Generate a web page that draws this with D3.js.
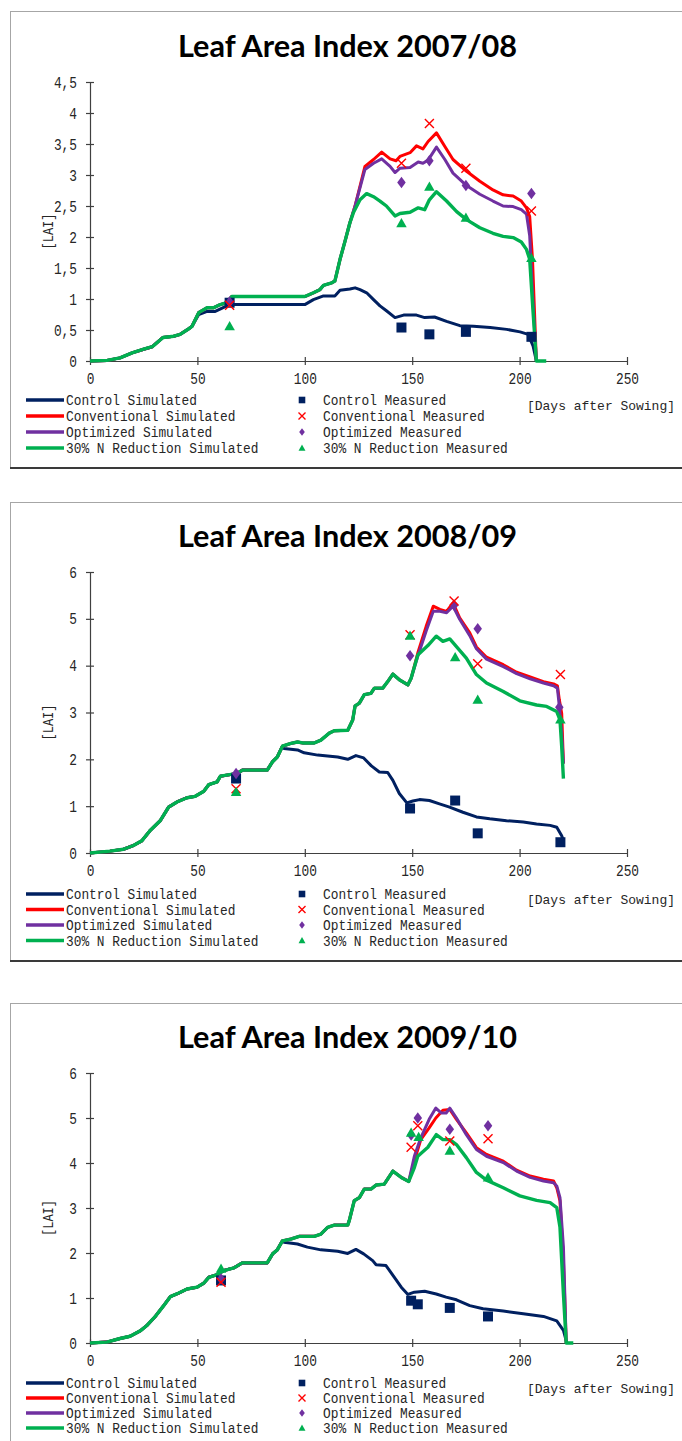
<!DOCTYPE html>
<html>
<head>
<meta charset="utf-8">
<script src="https://d3js.org/d3.v7.min.js"></script>
<style>
body { margin: 0; background: #fff; }
</style>
</head>
<body>
<script>
// series names and colours
var seriesNames = ["Control", "Conventional", "Optimized", "30% N Reduction"];
var seriesColors = ["#002060", "#ff0000", "#7030a0", "#00b050"];
var xTicks = [0, 50, 100, 150, 200, 250];
var yTicks0708 = [0, 0.5, 1, 1.5, 2, 2.5, 3, 3.5, 4, 4.5];
var yTicks0910 = [0, 1, 2, 3, 4, 5, 6];

// ---- 2007/08, [day, LAI] ----
var early0708 = [[0,0],[8,0.01],[14,0.05],[19.6,0.13],[25,0.19],[29,0.23],[34,0.38],[39,0.40],[42,0.43],[46,0.52],[47.5,0.56],[50.6,0.78]];
var rise0708 = [[54.5,0.86],[57.6,0.86],[60.6,0.91],[63.7,0.94],[66,1.04],[100,1.04],[104,1.10],[107,1.15],[108.7,1.22],[112.5,1.26],[114,1.29],[116.4,1.64],[118.7,1.93],[121,2.23]];
var ctrlSim0708 = early0708.slice(0, 11).concat([[50.6,0.75],[54.5,0.80],[58.3,0.80],[62,0.86],[65,0.91],[100,0.91],[104,0.99],[108.7,1.05],[114,1.05],[116.4,1.14],[121,1.16],[123.4,1.18],[125.7,1.15],[128.8,1.10],[132,0.99],[135,0.89],[138,0.81],[142,0.70],[146,0.74],[152,0.74],[155.8,0.70],[160.4,0.71],[166,0.64],[172.2,0.57],[178.5,0.56],[186.3,0.54],[194,0.51],[200.2,0.47],[204,0.43],[206.3,0.24],[207.8,0]]);
var convSim0708 = early0708.concat(rise0708, [[123.4,2.50],[128,3.14],[132,3.25],[135.8,3.37],[139.7,3.26],[142.5,3.23],[144.3,3.30],[149,3.36],[152,3.47],[155,3.42],[157.4,3.54],[161.3,3.68],[165.2,3.46],[169,3.25],[175.3,3.06],[181.5,2.90],[187.6,2.76],[192.3,2.68],[197,2.66],[200.8,2.58],[203.2,2.47],[204.7,2.33],[206,1.64],[207.8,0]]);
var optSim0708 = early0708.concat(rise0708, [[123.4,2.50],[128,3.09],[132,3.19],[135.8,3.26],[139.7,3.14],[142,3.04],[144.3,3.11],[149,3.12],[152.8,3.21],[155,3.19],[157.4,3.24],[161.3,3.45],[165.2,3.25],[169,3.03],[175.3,2.83],[181.5,2.69],[187.6,2.58],[192.3,2.50],[197,2.49],[200.8,2.44],[203.2,2.37],[204.7,2.02],[206,1.10],[207.8,0]]);
var nredSim0708 = early0708.concat(rise0708, [[122.6,2.39],[125.7,2.60],[128.8,2.70],[132,2.65],[135,2.58],[138,2.50],[142,2.34],[144.3,2.38],[149,2.40],[152.8,2.47],[155.8,2.44],[158,2.60],[161.3,2.73],[166,2.58],[170.7,2.41],[175.3,2.28],[181.5,2.15],[187.6,2.06],[192.3,2.01],[197,1.99],[200.8,1.92],[203.2,1.80],[204.7,1.64],[206.2,0.83],[207.8,0],[212.4,0]]);
var ctrlMeas0708 = [[65,0.94],[145,0.54],[158,0.43],[175,0.47],[205.5,0.39]];
var convMeas0708 = [[65,0.90],[145,3.19],[158,3.83],[175,3.11],[205.5,2.42]];
var optMeas0708 = [[65,0.95],[145,2.88],[158,3.23],[175,2.83],[205.5,2.70]];
var nredMeas0708 = [[65,0.56],[145,2.22],[158,2.81],[175,2.31],[205.5,1.66]];

// ---- 2008/09 ----
var early0809 = [[0,0],[9.3,0.04],[15.6,0.08],[20.2,0.16],[24.1,0.26],[28,0.48],[32.7,0.69],[36.6,0.98],[40.5,1.09],[45.2,1.18],[49,1.21],[53,1.32],[55.3,1.46],[59.2,1.52],[60.7,1.64],[68.5,1.70],[71,1.77],[82.5,1.77],[85,1.95],[87.2,2.05],[89.6,2.28]];
var mid0809 = [[93.5,2.34],[96.6,2.37],[99,2.35],[104.4,2.35],[107.5,2.41],[111.4,2.56],[113.7,2.61],[120,2.62],[122.3,2.84],[123.4,3.14],[125.4,3.20],[127.7,3.38],[130.8,3.41],[132.4,3.52],[136.3,3.52],[138.6,3.66],[141,3.82],[144,3.70],[148,3.59],[149.5,3.73]];
var ctrlSim0809 = early0809.concat([[90.3,2.23],[96.6,2.20],[99.7,2.14],[106,2.09],[110.6,2.07],[115.3,2.05],[120,2.00],[123.8,2.08],[127.4,2.03],[131,1.86],[134.7,1.73],[138.6,1.72],[141,1.55],[144,1.27],[147.5,1.07],[150.3,1.11],[153.4,1.14],[158,1.12],[162.7,1.05],[167.4,0.98],[173.6,0.87],[179.9,0.77],[186.1,0.73],[193.9,0.69],[201.7,0.66],[207.9,0.62],[214.2,0.59],[217.3,0.55],[219.6,0.37],[220.4,0.26]]);
var convSim0809 = early0809.concat(mid0809, [[152.6,4.27],[156.5,4.84],[159.8,5.27],[162.9,5.20],[166,5.16],[169,5.34],[172.1,5.02],[176.8,4.70],[179.9,4.40],[184.6,4.18],[192.4,4.02],[198.6,3.86],[204.9,3.76],[211.1,3.66],[215.8,3.61],[217.6,3.57],[218.5,3.27],[219.6,2.98],[220.4,1.91]]);
var optSim0809 = early0809.concat(mid0809, [[152.6,4.20],[156.5,4.74],[159.8,5.16],[162.9,5.16],[166,5.13],[169,5.27],[172.1,4.99],[176.8,4.64],[179.9,4.36],[184.6,4.14],[192.4,3.98],[198.6,3.83],[204.9,3.72],[211.1,3.63],[215.8,3.57],[217.6,3.52],[218.5,3.13],[219.6,2.55],[220.4,1.91]]);
var nredSim0809 = early0809.concat(mid0809, [[152.6,4.23],[157.3,4.43],[161.2,4.63],[164.3,4.52],[167.5,4.57],[169.8,4.45],[175.2,4.16],[179.9,3.81],[184.6,3.63],[192.4,3.45],[200.1,3.25],[207.9,3.16],[212.6,3.13],[217.3,3.02],[218.8,2.84],[219.6,2.27],[220.4,1.59]]);
var ctrlMeas0809 = [[68,1.59],[149,0.95],[170,1.12],[180.5,0.42],[219,0.23]];
var convMeas0809 = [[68,1.37],[149,4.66],[169.5,5.38],[180.5,4.04],[219,3.81]];
var optMeas0809 = [[68,1.70],[149,4.21],[169.5,5.29],[180.5,4.79],[218.5,3.11]];
var nredMeas0809 = [[68,1.30],[149,4.64],[170,4.18],[180.5,3.27],[219,2.85]];

// ---- 2009/10 ----
var early0910 = [[0,0],[7.8,0.02],[14,0.10],[18.7,0.15],[23.4,0.27],[26.5,0.39],[30.4,0.59],[34.3,0.83],[37.4,1.03],[41.3,1.11],[45.2,1.20],[49.8,1.24],[53,1.33],[55.3,1.46],[59.2,1.52],[62.3,1.61],[67,1.67],[70.9,1.78],[82.5,1.78],[85,1.98],[87.2,2.07],[89.6,2.27]];
var mid0910 = [[93.5,2.31],[97.4,2.37],[104.4,2.37],[107.5,2.42],[110.6,2.57],[113.7,2.62],[120,2.62],[120.7,2.72],[123,3.16],[125.4,3.23],[127.7,3.42],[130.8,3.42],[133.2,3.51],[137,3.53],[141,3.82],[144.9,3.68],[148.4,3.59]];
var ctrlSim0910 = early0910.concat([[90.3,2.24],[96.6,2.20],[101.2,2.13],[107.5,2.07],[115.3,2.04],[120,1.99],[123.8,2.08],[127.4,1.98],[131.6,1.83],[133.2,1.74],[137.8,1.72],[141.7,1.46],[144.9,1.24],[148,1.08],[151,1.13],[155.8,1.15],[161.2,1.09],[165.8,1.02],[170.6,0.96],[176.8,0.83],[183,0.76],[192.4,0.71],[201.7,0.65],[211.1,0.59],[217.3,0.49],[220.4,0.28],[222,0]]);
var convSim0910 = early0910.concat(mid0910, [[151,4.04],[154,4.52],[157.9,4.78],[161,5.00],[164.3,5.17],[167.5,5.19],[170.6,4.97],[175.2,4.67],[179.9,4.34],[184.6,4.19],[192.4,4.04],[198.6,3.84],[204.9,3.71],[211.1,3.64],[215.8,3.60],[217.3,3.45],[218.8,3.16],[220.4,1.83],[221.7,0]]);
var optSim0910 = early0910.concat(mid0910, [[151,4.15],[154,4.56],[157.9,4.97],[161,5.22],[163.6,5.11],[165.8,5.11],[167.5,5.22],[170.6,5.00],[175.2,4.63],[179.9,4.30],[184.6,4.15],[192.4,4.01],[198.6,3.82],[204.9,3.68],[211.1,3.60],[215.8,3.56],[217.3,3.49],[218.8,3.23],[220.4,2.13],[221.7,0]]);
var nredSim0910 = early0910.concat(mid0910, [[151,3.90],[152.6,4.15],[157.3,4.35],[161.2,4.63],[164.3,4.52],[167.5,4.52],[170.6,4.41],[175.2,4.12],[179.9,3.79],[184.6,3.62],[192.4,3.45],[200.1,3.27],[207.9,3.17],[214.2,3.12],[217.3,3.01],[218.8,2.57],[220.4,1.09],[221.7,0],[225,0]]);
var ctrlMeas0910 = [[61,1.39],[149.5,0.94],[152.6,0.86],[167.5,0.78],[185.3,0.59]];
var convMeas0910 = [[61,1.35],[149.5,4.35],[152.6,4.83],[167.5,4.49],[185.3,4.54]];
var optMeas0910 = [[61,1.42],[149.5,4.62],[152.6,5.00],[167.5,4.75],[185.3,4.83]];
var nredMeas0910 = [[61,1.65],[149.5,4.67],[153,4.58],[167.5,4.27],[185.3,3.68]];

// panel layout
var panels = [
  {title: "Leaf Area Index 2007/08", top: 11, bottom: 468, titleY: 57, yTop: 82, yBase: 361, yMax: 4.5, yTicks: yTicks0708,
   legendY: 400, legendStep: 16,
   sim: [ctrlSim0708, convSim0708, optSim0708, nredSim0708], meas: [ctrlMeas0708, convMeas0708, optMeas0708, nredMeas0708]},
  {title: "Leaf Area Index 2008/09", top: 502, bottom: 961, titleY: 547, yTop: 572, yBase: 853, yMax: 6, yTicks: yTicks0910,
   legendY: 894, legendStep: 15.5,
   sim: [ctrlSim0809, convSim0809, optSim0809, nredSim0809], meas: [ctrlMeas0809, convMeas0809, optMeas0809, nredMeas0809]},
  {title: "Leaf Area Index 2009/10", top: 1003, bottom: 1470, titleY: 1048, yTop: 1073, yBase: 1343, yMax: 6, yTicks: yTicks0910,
   legendY: 1383, legendStep: 15,
   sim: [ctrlSim0910, convSim0910, optSim0910, nredSim0910], meas: [ctrlMeas0910, convMeas0910, optMeas0910, nredMeas0910]}
];

var W = 682, H = 1441;
var monoFont = "'Liberation Mono', 'Courier New', monospace";
var charW = 7.7;

var svg = d3.select('body').append('svg').attr('width', W).attr('height', H);

// marker shapes
var markerPaths = [
  function(s) { return 'M' + (-s) + ',' + (-s) + 'H' + s + 'V' + s + 'H' + (-s) + 'Z'; },
  function(s) { return 'M' + (-s) + ',' + (-s) + 'L' + s + ',' + s + 'M' + s + ',' + (-s) + 'L' + (-s) + ',' + s; },
  function(s) { return 'M0,' + (-s * 1.15) + 'L' + (s * 0.85) + ',0L0,' + (s * 1.15) + 'L' + (-s * 0.85) + ',0Z'; },
  function(s) { return 'M0,' + (-s * 1.05) + 'L' + (s * 1.05) + ',' + (s * 0.8) + 'L' + (-s * 1.05) + ',' + (s * 0.8) + 'Z'; }
];
function styleMarker(sel, i) {
  if (i == 1) sel.attr('fill', 'none').attr('stroke', seriesColors[i]).attr('stroke-width', 1.4);
  else sel.attr('fill', seriesColors[i]).attr('stroke', 'none');
}
function monoText(sel, size) {
  sel.attr('font-family', monoFont).attr('font-size', size || 16).attr('fill', '#262626')
    .attr('textLength', function() { return this.textContent.length * charW; })
    .attr('lengthAdjust', 'spacingAndGlyphs');
}

panels.forEach(function(p) {
  var g = svg.append('g');

  // frame
  g.append('rect').attr('x', 10.5).attr('y', p.top + 0.5).attr('width', 700).attr('height', p.bottom - p.top)
    .attr('fill', '#fff').attr('stroke', '#a6a6a6');
  g.append('line').attr('x1', 10).attr('x2', W).attr('y1', p.bottom).attr('y2', p.bottom)
    .attr('stroke', '#3a3a3a').attr('stroke-width', 2);

  // title
  g.append('text').attr('x', 347.5).attr('y', p.titleY).attr('text-anchor', 'middle')
    .attr('font-family', 'Lato, Carlito, sans-serif').attr('font-weight', 'bold').attr('font-size', 31)
    .attr('fill', '#000').attr('textLength', 339).attr('lengthAdjust', 'spacingAndGlyphs')
    .text(p.title);

  var x = d3.scaleLinear().domain([0, 250]).range([90, 627]);
  var y = d3.scaleLinear().domain([0, p.yMax]).range([p.yBase, p.yTop]);

  // axes
  var xa = g.append('g').attr('transform', 'translate(0,' + p.yBase + ')')
    .call(d3.axisBottom(x).tickValues(xTicks).tickSizeInner(4).tickSizeOuter(0).tickPadding(8));
  xa.selectAll('.tick line').attr('y1', -4);
  xa.selectAll('.tick text').call(monoText, 16);
  var ya = g.append('g').attr('transform', 'translate(90,0)')
    .call(d3.axisLeft(y).tickValues(p.yTicks).tickSizeInner(4).tickSizeOuter(0).tickPadding(9)
      .tickFormat(function(d) { return String(d).replace('.', ','); }));
  ya.selectAll('.tick line').attr('x1', 4);
  ya.selectAll('.tick text').call(monoText, 16);
  g.selectAll('.domain, .tick line').attr('stroke', '#404040').attr('stroke-width', 1.2);

  g.append('text').attr('transform', 'translate(53,' + ((p.yTop + p.yBase) / 2 + 10) + ') rotate(-90)')
    .attr('text-anchor', 'middle').text('[LAI]').call(monoText, 15).attr('textLength', 36);

  // simulated lines
  var line = d3.line().x(function(d) { return x(d[0]); }).y(function(d) { return y(d[1]); });
  p.sim.forEach(function(s, i) {
    g.append('path').datum(s).attr('d', line).attr('fill', 'none')
      .attr('stroke', seriesColors[i]).attr('stroke-width', i == 3 ? 3.4 : 3)
      .attr('stroke-linejoin', 'round');
  });

  // measured points
  [0, 2, 1, 3].forEach(function(i) {
    g.selectAll(null).data(p.meas[i]).join('path')
      .attr('transform', function(d) { return 'translate(' + x(d[0]) + ',' + y(d[1]) + ')'; })
      .attr('d', markerPaths[i](i == 1 ? 4.5 : 5))
      .call(styleMarker, i);
  });

  // legend
  seriesNames.forEach(function(name, i) {
    var ly = p.legendY + i * p.legendStep;
    g.append('line').attr('x1', 26).attr('x2', 64).attr('y1', ly).attr('y2', ly)
      .attr('stroke', seriesColors[i]).attr('stroke-width', 3.5);
    g.append('text').attr('x', 66).attr('y', ly + 5).text(name + ' Simulated').call(monoText, 14.5);
    g.append('path').attr('transform', 'translate(302,' + ly + ')')
      .attr('d', markerPaths[i](i == 1 ? 3.5 : 3.3)).call(styleMarker, i);
    g.append('text').attr('x', 323).attr('y', ly + 5).text(name + ' Measured').call(monoText, 14.5);
  });
  g.append('text').attr('x', 527).attr('y', p.legendY + 10).text('[Days after Sowing]')
    .call(monoText, 13.4).attr('textLength', 148);
});
</script>
</body>
</html>
